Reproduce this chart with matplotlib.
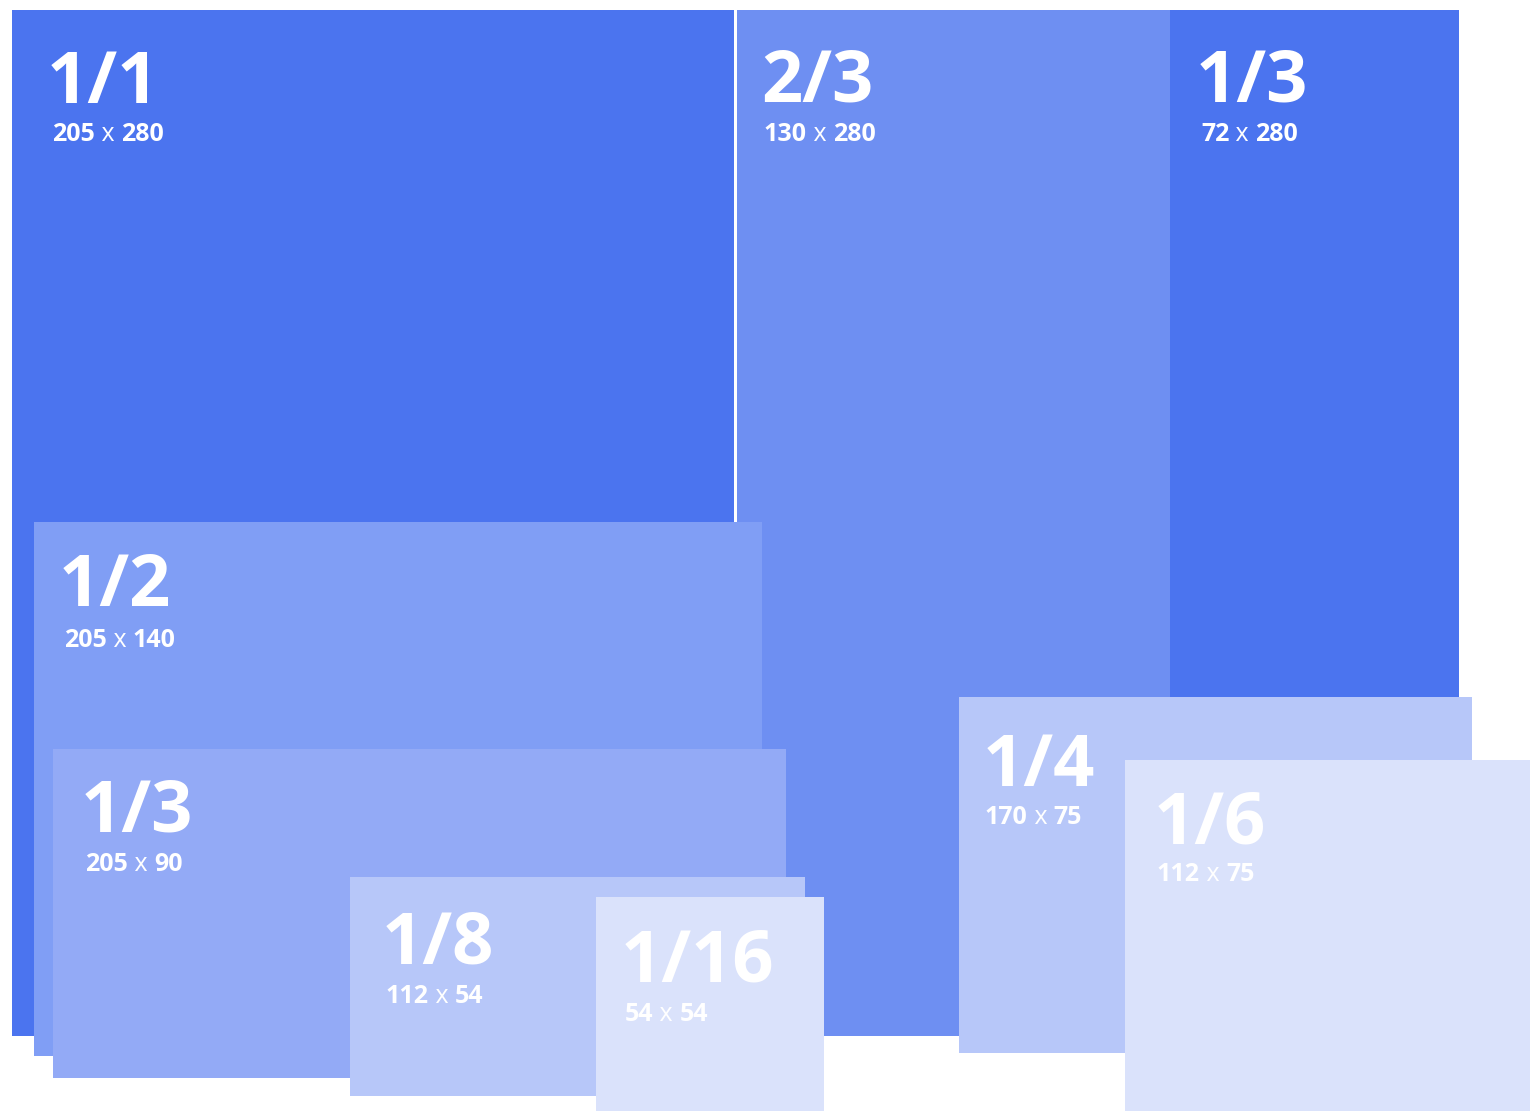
import matplotlib
matplotlib.use("Agg")
import matplotlib.pyplot as plt
from matplotlib.patches import Rectangle

# ---- data ----
labels = ["1/1", "2/3", "1/3", "1/2", "1/3", "1/8", "1/16", "1/4", "1/6"]
widths_txt = ["205", "130", "72", "205", "205", "112", "54", "170", "112"]
heights_txt = ["280", "280", "280", "140", "90", "54", "54", "75", "75"]

# box extents in pixel space (left, top, right, bottom)
box_left = [12, 737, 1170, 34, 53, 350, 596, 959, 1125]
box_top = [10, 10, 10, 522, 749, 877, 897, 697, 760]
box_right = [734, 1170, 1459, 762, 786, 805, 824, 1472, 1530]
box_bottom = [1036, 1036, 1036, 1056, 1078, 1096, 1111, 1053, 1111]

colors = ["#4B74EF", "#6E8FF2", "#4B74EF", "#809EF5", "#93AAF6",
          "#B7C7F9", "#DAE2FB", "#B7C7F9", "#DAE2FB"]

# label layout (pixel positions)
label_x = [47, 761, 1196, 59, 81, 382, 621, 983, 1154]
label_base = [103, 102, 102, 606, 832, 963, 981, 786, 844]
sub_x = [52, 764, 1201, 64, 85, 386, 625, 985, 1157]
sub_base = [141, 141, 141, 647, 871, 1003, 1021, 824, 881]

W, H = 1530, 1111
fig = plt.figure(figsize=(W / 100, H / 100), dpi=100)
ax = fig.add_axes([0, 0, 1, 1])
ax.set_xlim(0, W)
ax.set_ylim(H, 0)
ax.axis("off")

FONT = ["Open Sans", "DejaVu Sans"]

for i in range(len(labels)):
    ax.add_patch(Rectangle((box_left[i], box_top[i]),
                           box_right[i] - box_left[i],
                           box_bottom[i] - box_top[i],
                           facecolor=colors[i], edgecolor="none", zorder=i))
    ax.text(label_x[i], label_base[i], labels[i], color="white",
            fontsize=52, fontweight="bold", family=FONT,
            ha="left", va="baseline", zorder=i + 0.5)
    t1 = ax.text(sub_x[i], sub_base[i], widths_txt[i], color="white",
                 fontsize=18, fontweight="bold", family=FONT,
                 ha="left", va="baseline", zorder=i + 0.5)
    t2 = ax.annotate(" x ", xy=(1, 0), xycoords=t1, color="white",
                     fontsize=18, fontweight="normal", family=FONT,
                     ha="left", va="bottom", zorder=i + 0.5)
    ax.annotate(heights_txt[i], xy=(1, 0), xycoords=t2, color="white",
                fontsize=18, fontweight="bold", family=FONT,
                ha="left", va="bottom", zorder=i + 0.5)

fig.savefig("out.png", dpi=100)
